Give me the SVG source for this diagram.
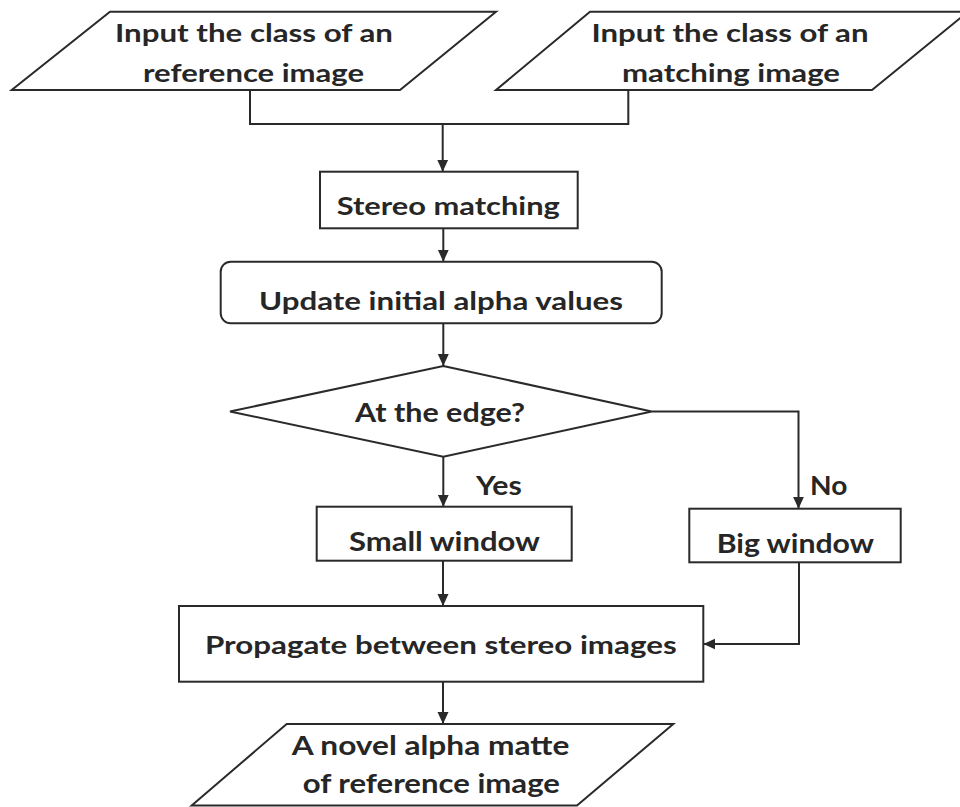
<svg xmlns="http://www.w3.org/2000/svg" width="960" height="807" viewBox="0 0 960 807">
<style>
.shape{fill:#fff;stroke:#2a2a2a;stroke-width:2}
.conn{fill:none;stroke:#2a2a2a;stroke-width:2}
text{font-family:Lato,"Open Sans","Liberation Sans",sans-serif;font-weight:bold;fill:#262626}
.t24{font-size:24px}
.t25{font-size:25px}
.t27{font-size:27px}
.c{text-anchor:middle}
</style>
<defs>
<marker id="arr" viewBox="0 0 12 12" refX="12" refY="6" markerWidth="12" markerHeight="12" markerUnits="userSpaceOnUse" orient="auto">
<path d="M0,0.5 L12,6 L0,11.5 z" fill="#2a2a2a"/>
</marker>
</defs>
<rect width="960" height="807" fill="#fff"/>
<g id="connectors">
<path class="conn" d="M250,90 V124 H628.3 V90"/>
<path class="conn" d="M442.7,124 V171.7" marker-end="url(#arr)"/>
<path class="conn" d="M443.3,228.3 V261.7" marker-end="url(#arr)"/>
<path class="conn" d="M443.3,323.3 V366" marker-end="url(#arr)"/>
<path class="conn" d="M443.3,456.7 V506.7" marker-end="url(#arr)"/>
<path class="conn" d="M651.7,411.5 H798.5 V508.7" marker-end="url(#arr)"/>
<path class="conn" d="M443,560.7 V606" marker-end="url(#arr)"/>
<path class="conn" d="M799,562.3 V644 H703.3" marker-end="url(#arr)"/>
<path class="conn" d="M443,681.7 V724" marker-end="url(#arr)"/>
<text class="t27" x="476" y="495" textLength="45.7" lengthAdjust="spacingAndGlyphs">Yes</text>
<text class="t27" x="810" y="495" textLength="37.3" lengthAdjust="spacingAndGlyphs">No</text>
</g>
<g id="input-reference">
<polygon class="shape" points="110,11.7 496,11.7 400,90 11.7,90"/>
<text class="t24 c" x="254" y="41.7" textLength="278" lengthAdjust="spacingAndGlyphs">Input the class of an</text>
<text class="t24 c" x="253.5" y="81.7" textLength="221" lengthAdjust="spacingAndGlyphs">reference image</text>
</g>
<g id="input-matching">
<polygon class="shape" points="590,11.7 968,11.7 872,90 496,90"/>
<text class="t24 c" x="730" y="41.7" textLength="277" lengthAdjust="spacingAndGlyphs">Input the class of an</text>
<text class="t24 c" x="731" y="81.7" textLength="218" lengthAdjust="spacingAndGlyphs">matching image</text>
</g>
<g id="stereo-matching">
<rect class="shape" x="320" y="171.7" width="257.7" height="56.6"/>
<text class="t25 c" x="448.3" y="215" textLength="223" lengthAdjust="spacingAndGlyphs">Stereo matching</text>
</g>
<g id="update-alpha">
<rect class="shape" x="220.7" y="261.7" width="441" height="61.6" rx="10"/>
<text class="t25 c" x="441" y="310" textLength="364" lengthAdjust="spacingAndGlyphs">Update initial alpha values</text>
</g>
<g id="at-edge">
<polygon class="shape" points="443.3,366 651.7,411.5 443.3,456.7 230,411.5"/>
<text class="t27 c" x="440" y="421.7" textLength="170" lengthAdjust="spacingAndGlyphs">At the edge?</text>
</g>
<g id="small-window">
<rect class="shape" x="316.7" y="506.7" width="255" height="54"/>
<text class="t27 c" x="444.5" y="551" textLength="191" lengthAdjust="spacingAndGlyphs">Small window</text>
</g>
<g id="big-window">
<rect class="shape" x="689.3" y="508.7" width="211.4" height="53.6"/>
<text class="t27 c" x="795.3" y="552.7" textLength="157.3" lengthAdjust="spacingAndGlyphs">Big window</text>
</g>
<g id="propagate">
<rect class="shape" x="179" y="606" width="524.3" height="75.7"/>
<text class="t25 c" x="440.8" y="654" textLength="471.7" lengthAdjust="spacingAndGlyphs">Propagate between stereo images</text>
</g>
<g id="output">
<polygon class="shape" points="286.7,724 673.3,724 577,805.5 191.7,805.5"/>
<text class="t27 c" x="430.5" y="755" textLength="277.6" lengthAdjust="spacingAndGlyphs">A novel alpha matte</text>
<text class="t27 c" x="431.3" y="793.3" textLength="257.3" lengthAdjust="spacingAndGlyphs">of reference image</text>
</g>
</svg>
